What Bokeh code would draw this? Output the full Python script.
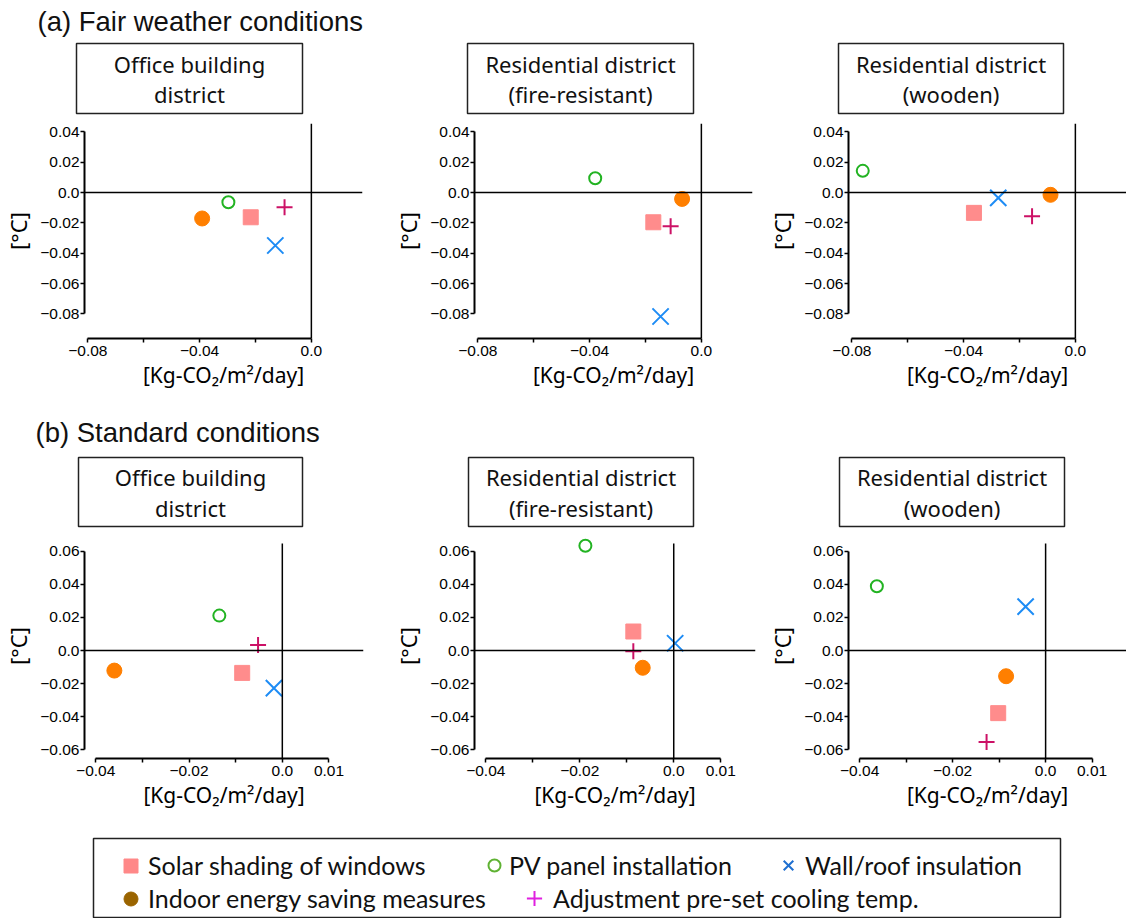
import numpy as np
from bokeh.plotting import figure
from bokeh.models import (Range1d, FixedTicker, Span, BoxAnnotation, Label, Arrow,
                          Legend, LegendItem, CustomJSTickFormatter)
from bokeh.layouts import column, row
from bokeh.embed import file_html
from bokeh.resources import INLINE

# ---------------- data ----------------
measures = ["Solar shading of windows", "PV panel installation",
            "Wall/roof insulation", "Indoor energy saving measures",
            "Adjustment pre-set cooling temp."]

section_titles = ["(a) Fair weather conditions", "(b) Standard conditions"]
district_titles = [["Office building", "district"],
                   ["Residential district", "(fire-resistant)"],
                   ["Residential district", "(wooden)"]]
x_label = "[Kg-CO\u2082/m\u00b2/day]"
y_label = "[\u00b0C]"

# order of values follows `measures`
fair_office_x = [-0.0217, -0.0297, -0.0129, -0.0391, -0.0096]
fair_office_y = [-0.0163, -0.0064, -0.0349, -0.0171, -0.0097]
fair_fire_x = [-0.0172, -0.0380, -0.0146, -0.0069, -0.0110]
fair_fire_y = [-0.0196, 0.0094, -0.0817, -0.0042, -0.0222]
fair_wood_x = [-0.0363, -0.0761, -0.0276, -0.0089, -0.0155]
fair_wood_y = [-0.0134, 0.0143, -0.0035, -0.0015, -0.0156]
std_office_x = [-0.0086, -0.0135, -0.0018, -0.0360, -0.0052]
std_office_y = [-0.0135, 0.0211, -0.0227, -0.0121, 0.0034]
std_fire_x = [-0.0086, -0.0188, 0.0003, -0.0066, -0.0086]
std_fire_y = [0.0115, 0.0633, 0.0044, -0.0104, -0.0004]
std_wood_x = [-0.0102, -0.0363, -0.0043, -0.0085, -0.0127]
std_wood_y = [-0.0378, 0.0388, 0.0265, -0.0155, -0.0553]

fair_xticks = [-0.08, -0.06, -0.04, -0.02, 0.0]
fair_xtick_labels = ["\u22120.08", "", "\u22120.04", "", "0.0"]
fair_yticks = [-0.08, -0.06, -0.04, -0.02, 0.0, 0.02, 0.04]
fair_ytick_labels = ["\u22120.08", "\u22120.06", "\u22120.04", "\u22120.02", "0.0", "0.02", "0.04"]
std_xticks = [-0.04, -0.03, -0.02, -0.01, 0.0, 0.01]
std_xtick_labels = ["\u22120.04", "", "\u22120.02", "", "0.0", "0.01"]
std_yticks = [-0.06, -0.04, -0.02, 0.0, 0.02, 0.04, 0.06]
std_ytick_labels = ["\u22120.06", "\u22120.04", "\u22120.02", "0.0", "0.02", "0.04", "0.06"]

# ---------------- styles ----------------
plot_styles = [
    dict(marker="square", size=15, fill_color="#ff8c8c", line_color="#ff8c8c"),
    dict(marker="circle", size=12, fill_color=None, line_color="#22b322", line_width=2),
    dict(marker="x", size=23, line_color="#1e8cf5", line_width=2),
    dict(marker="circle", size=15, fill_color="#ff7f00", line_color="#ff7f00"),
    dict(marker="cross", size=16, line_color="#cc1166", line_width=2),
]
legend_styles = [
    dict(marker="square", fill_color="#ff8888", line_color="#ff8888"),
    dict(marker="circle", fill_color=None, line_color="#5fb233", line_width=2),
    dict(marker="x", line_color="#1f6fd0", line_width=2),
    dict(marker="circle", fill_color="#9a6400", line_color="#9a6400"),
    dict(marker="cross", line_color="#e020e0", line_width=2),
]
TICK_FONT = "Liberation Sans"
LABEL_FONT = "Noto Sans"
TEXT_COLOR = "#111111"


def no_align(p):
    if "frame_align" in p.properties():
        p.frame_align = False
    return p


def tick_formatter(tvals, tlabels):
    return CustomJSTickFormatter(args=dict(tvals=tvals, tlabels=tlabels), code="""
        for (let i = 0; i < tvals.length; i++) {
            if (Math.abs(tvals[i] - tick) < 1e-9) return tlabels[i];
        }
        return "";
    """)


def style_axis(ax, ticks, labels, label_text, label_standoff):
    ax.ticker = FixedTicker(ticks=ticks)
    ax.formatter = tick_formatter(ticks, labels)
    ax.bounds = (ticks[0], ticks[-1])
    ax.axis_label = label_text
    ax.axis_line_width = 2
    ax.axis_line_color = "black"
    ax.major_tick_line_width = 1.5
    ax.major_tick_line_color = "black"
    ax.major_tick_out = 4
    ax.major_tick_in = 0
    ax.minor_tick_line_color = None
    ax.major_label_text_font = TICK_FONT
    ax.major_label_text_font_size = "15.5px"
    ax.major_label_text_color = "black"
    ax.axis_label_text_font = LABEL_FONT
    ax.axis_label_text_font_size = "21px"
    ax.axis_label_text_font_style = "normal"
    ax.axis_label_text_color = "black"
    ax.axis_label_standoff = label_standoff


def make_panel(xs, ys, xr, yr, ytop, xticks, xlabels, yticks, ylabels,
               width, height, left, right, top, bottom):
    p = figure(width=width, height=height, title=None,
               x_range=Range1d(*xr), y_range=Range1d(*yr),
               output_backend="svg", toolbar_location=None,
               min_border_left=left, min_border_right=right,
               min_border_top=top, min_border_bottom=bottom)
    no_align(p)
    p.grid.visible = False
    p.outline_line_color = None
    p.background_fill_color = "white"
    p.border_fill_color = "white"

    style_axis(p.xaxis[0], xticks, xlabels, x_label, 2)
    p.xaxis[0].major_label_standoff = 3
    style_axis(p.yaxis[0], yticks, ylabels, y_label, 4)
    p.yaxis[0].major_label_standoff = 1
    p.yaxis[0].axis_label_text_font_size = "22px"

    # zero reference lines
    p.add_layout(Span(location=0, dimension="width", line_color="black", line_width=1.5))
    p.add_layout(Arrow(x_start=0, y_start=yr[0], x_end=0, y_end=ytop, start=None, end=None,
                       line_color="black", line_width=1.5))

    for i in range(len(measures)):
        p.scatter(x=[xs[i]], y=[ys[i]], **plot_styles[i])
    return p


def make_header(height, section, sec_xy, boxes, centers, line_ys):
    h = figure(width=1126, height=height, title=None,
               x_range=Range1d(0, 1), y_range=Range1d(0, 1),
               x_axis_location=None, y_axis_location=None,
               output_backend="svg", toolbar_location=None,
               min_border_left=0, min_border_right=0, min_border_top=0, min_border_bottom=0)
    no_align(h)
    h.grid.visible = False
    h.outline_line_color = None
    h.add_layout(Label(x=sec_xy[0], y=sec_xy[1], x_units="screen", y_units="screen",
                       text=section, text_align="left", text_baseline="middle",
                       text_font="Liberation Sans", text_font_size="27.5px",
                       text_color=TEXT_COLOR))
    for (bl, br, bb, bt), cx, lines in zip(boxes, centers, district_titles):
        h.add_layout(BoxAnnotation(left=bl, right=br, bottom=bb, top=bt,
                                   left_units="screen", right_units="screen",
                                   bottom_units="screen", top_units="screen",
                                   fill_color=None, fill_alpha=0,
                                   line_color="#222222", line_alpha=1, line_width=1.5))
        for txt, ty in zip(lines, line_ys):
            h.add_layout(Label(x=cx, y=ty, x_units="screen", y_units="screen",
                               text=txt, text_align="center", text_baseline="middle",
                               text_font=LABEL_FONT, text_font_size="22px",
                               text_color=TEXT_COLOR))
    return h


FAIR_XR = (-0.0812, 0.0183)
FAIR_YR = (-0.0962, 0.0455)
FAIR_YTOP = 0.0455
STD_XR = (-0.0424, 0.0174)
STD_YR = (-0.0652, 0.0707)
STD_YTOP = 0.0647

head_a = make_header(120, section_titles[0], (37, 99),
                     [(76, 302, 7, 77), (467, 693, 7, 77), (838, 1063, 7, 77)],
                     [189, 580, 950.5], (57, 27))
f1a = make_panel(fair_office_x, fair_office_y, FAIR_XR, FAIR_YR, FAIR_YTOP,
                 fair_xticks, fair_xtick_labels, fair_yticks, fair_ytick_labels,
                 390, 280, 80, 28, 3, 62)
f2a = make_panel(fair_fire_x, fair_fire_y, FAIR_XR, FAIR_YR, FAIR_YTOP,
                 fair_xticks, fair_xtick_labels, fair_yticks, fair_ytick_labels,
                 370, 280, 82, 8, 3, 62)
f3a = make_panel(fair_wood_x, fair_wood_y, FAIR_XR, FAIR_YR, FAIR_YTOP,
                 fair_xticks, fair_xtick_labels, fair_yticks, fair_ytick_labels,
                 366, 280, 88, 0, 3, 62)

head_b = make_header(130, section_titles[1], (35, 98),
                     [(78, 302, 4, 73), (468, 693, 4, 73), (839, 1064, 4, 73)],
                     [190, 580.5, 951.5], (54, 23))
f1b = make_panel(std_office_x, std_office_y, STD_XR, STD_YR, STD_YTOP,
                 std_xticks, std_xtick_labels, std_yticks, std_ytick_labels,
                 390, 290, 82, 27, 3, 62)
f2b = make_panel(std_fire_x, std_fire_y, STD_XR, STD_YR, STD_YTOP,
                 std_xticks, std_xtick_labels, std_yticks, std_ytick_labels,
                 370, 290, 84, 5, 3, 62)
f3b = make_panel(std_wood_x, std_wood_y, STD_XR, STD_YR, STD_YTOP,
                 std_xticks, std_xtick_labels, std_yticks, std_ytick_labels,
                 366, 290, 88, 0, 3, 62)

# ---------------- legend ----------------
leg = figure(width=1126, height=98, title=None,
             x_range=Range1d(0, 1), y_range=Range1d(0, 1),
             x_axis_location=None, y_axis_location=None,
             output_backend="svg", toolbar_location=None,
             min_border_left=93, min_border_right=66, min_border_top=18, min_border_bottom=0)
no_align(leg)
leg.grid.visible = False
leg.outline_line_color = "#222222"
leg.outline_line_width = 1.5

# glyph box size (marker size = 0.4 * box), legend location in frame pixels
legend_layout = [
    (35, (20, 35.5)),
    (30, (386, 38)),
    (34, (678, 36)),
    (35, (20, 2.5)),
    (38, (422, 1)),
]
for i, name in enumerate(measures):
    r = leg.scatter(x=np.array([np.nan]), y=np.array([np.nan]), **legend_styles[i])
    g, loc = legend_layout[i]
    lg = Legend(items=[LegendItem(label=name, renderers=[r])], location=loc,
                orientation="horizontal", padding=0, margin=0, spacing=0,
                glyph_width=g, glyph_height=g, label_standoff=0,
                label_text_font="Lato", label_text_font_size="25px",
                label_text_color=TEXT_COLOR,
                border_line_color=None, background_fill_alpha=0)
    leg.add_layout(lg)

layout = column(head_a, row(f1a, f2a, f3a), head_b, row(f1b, f2b, f3b), leg)
open("out.html", "w").write(file_html(layout, INLINE))
